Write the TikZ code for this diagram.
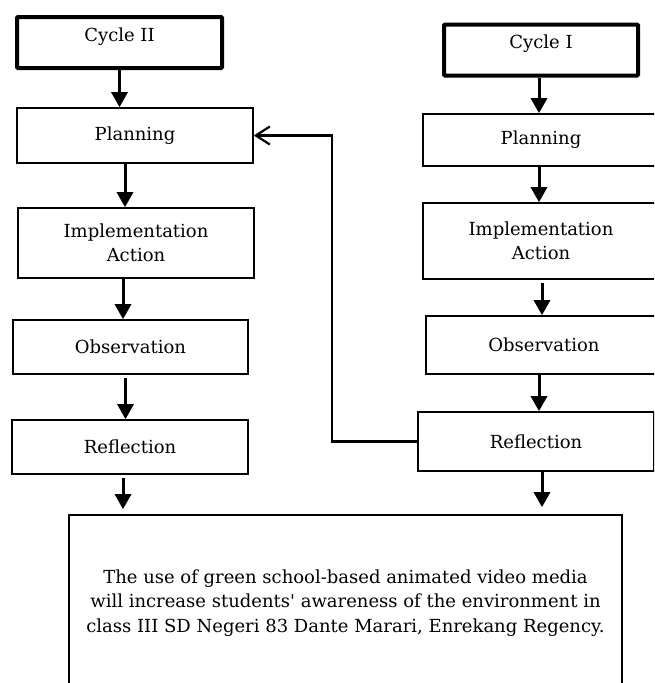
\documentclass[tikz,border=0pt]{standalone}
\usepackage{fontspec}
\setmainfont{DejaVu Serif}
\usetikzlibrary{arrows.meta,positioning}

\begin{document}
\begin{tikzpicture}[x=1pt, y=-1pt,
  box/.style={rectangle, draw=black, line width=1.6pt, align=center,
              font=\fontsize{18}{24.5}\selectfont, minimum width=236pt, inner sep=0pt},
  cyc/.style={box, line width=4pt, rounded corners=1pt, text height=24pt, text depth=27pt},
  flow/.style={-{Triangle[length=15pt,width=16pt]}, line width=3pt},
  back/.style={-{Straight Barb[length=14pt,width=18pt]}, line width=2.2pt}
]
\useasboundingbox (0,0) rectangle (654,683);
\clip (0,0) rectangle (654,683);
% second cycle (left column)
\node[cyc, minimum width=205pt] (cyc2)  at (119.5,42.5) {Cycle II};
\node[box, minimum height=55pt] (plan2) at (135,135.5)  {Planning};
\node[box, minimum height=70pt] (impl2) at (136,243)    {Implementation\\Action};
\node[box, minimum height=54pt, minimum width=235pt] (obs2) at (130.5,347) {Observation};
\node[box, minimum height=54pt] (refl2) at (130,447)    {Reflection};
% first cycle (right column)
\node[cyc, minimum width=194pt] (cyc1)  at (541,50)     {Cycle I};
\node[box, minimum height=52pt] (plan1) at (541,140)    {Planning};
\node[box, minimum height=76pt] (impl1) at (541,241)    {Implementation\\Action};
\node[box, minimum height=58pt] (obs1)  at (544,345)    {Observation};
\node[box, minimum height=59pt] (refl1) at (536,441.5)  {Reflection};
% outcome
\node[box, minimum width=553pt, minimum height=176pt] (goal) at (345.5,603)
  {The use of green school-based animated video media\\
   will increase students\textquotesingle{} awareness of the environment in\\
   class III SD Negeri 83 Dante Marari, Enrekang Regency.};
\coordinate (turn) at (332,300);
\draw[flow] (cyc2) -- (cyc2 |- plan2.north);
\draw[flow] ([xshift=-10pt]plan2.south) -- ([xshift=-10pt]plan2.south |- impl2.north);
\draw[flow] ([xshift=-13pt]impl2.south) -- ([xshift=-13pt]impl2.south |- obs2.north);
\draw[flow] ([xshift=-5pt,yshift=-3pt]obs2.south) -- ([xshift=-5pt]obs2.south |- refl2.north);
\draw[flow] ([xshift=-7pt,yshift=-3pt]refl2.south) -- ([xshift=-7pt,yshift=5pt]refl2.south |- goal.north);
\draw[flow] ([xshift=-2pt]cyc1.south) -- ([xshift=-2pt]cyc1.south |- plan1.north);
\draw[flow] ([xshift=-2pt]plan1.south) -- ([xshift=-2pt]plan1.south |- impl1.north);
\draw[flow] ([xshift=1pt,yshift=-3pt]impl1.south) -- ([xshift=1pt]impl1.south |- obs1.north);
\draw[flow] ([xshift=-5pt]obs1.south) -- ([xshift=-5pt]obs1.south |- refl1.north);
\draw[flow] ([xshift=6pt]refl1.south) -- ([xshift=6pt,yshift=7pt]refl1.south |- goal.north);
\draw[back] (refl1.west) -| (turn) |- (plan2.east);
\end{tikzpicture}
\end{document}
